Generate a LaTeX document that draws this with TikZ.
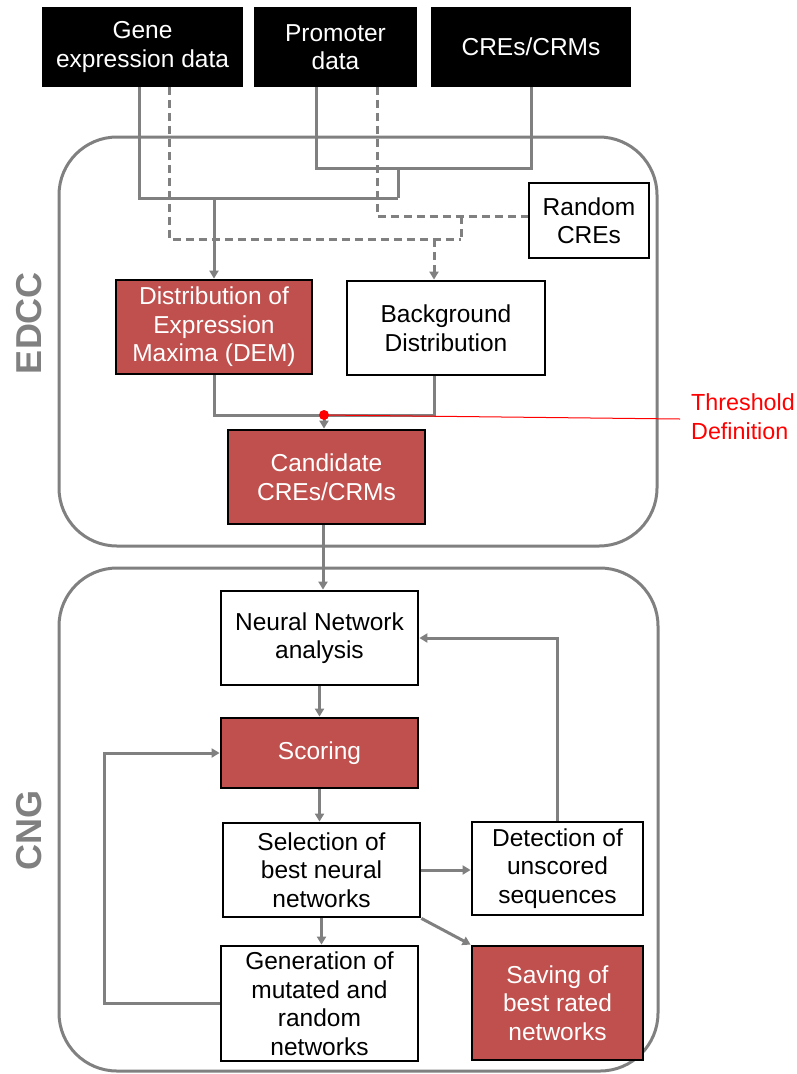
\documentclass[tikz,border=0pt]{standalone}
\usepackage{fontspec}
\setmainfont{Liberation Sans}
\usetikzlibrary{arrows.meta,calc}
\definecolor{boxred}{HTML}{C0504D}
\definecolor{lgray}{HTML}{808080}
\begin{document}
\begin{tikzpicture}[x=1pt,y=-1pt,
  txt/.style={font=\fontsize{24.5}{28.5}\selectfont, align=center, inner sep=0pt},
  datbox/.style={txt, draw=black, fill=black, text=white, line width=1.5pt},
  whbox/.style={txt, draw=black, fill=white, text=black, line width=2.8pt},
  redbox/.style={txt, draw=black, fill=boxred, text=white, line width=2.8pt},
  conn/.style={draw=lgray, line width=3pt},
  dconn/.style={conn, dash pattern=on 8pt off 5pt},
  arr/.style={-{Triangle[length=8pt,width=9pt]}},
  container/.style={draw=lgray, line width=3pt, rounded corners=58pt},
  side/.style={font=\fontsize{36}{40}\selectfont\bfseries, text=lgray, rotate=90, inner sep=0pt}
]
\useasboundingbox (0,0) rectangle (797,1074);
% containers
\draw[container] (59,137) rectangle (657,546);
\draw[container] (59,568) rectangle (658,1071);
\node[side] (edcc) at (29,323) {EDCC};
\node[side] (cng) at (29,830) {CNG};
% top data boxes
\node[datbox, minimum width=199pt, minimum height=78pt] (gene) at (142.5,47) {Gene\\expression data};
\node[datbox, minimum width=161pt, minimum height=78pt] (prom) at (335.5,47) {Promoter\\data};
\node[datbox, minimum width=198pt, minimum height=78pt] (cres) at (531,47) {CREs/CRMs};
% EDCC boxes
\node[whbox, minimum width=120pt, minimum height=75pt] (rand) at (589,220.5) {Random\\CREs};
\node[redbox, minimum width=196pt, minimum height=94pt] (dem) at (214,327) {Distribution of\\Expression\\Maxima (DEM)};
\node[whbox, minimum width=198pt, minimum height=94pt] (bg) at (446,328) {Background\\Distribution};
\node[redbox, minimum width=197pt, minimum height=94pt] (cand) at (326.5,477) {Candidate\\CREs/CRMs};
% CNG boxes
\node[whbox, minimum width=197pt, minimum height=94pt] (nn) at (319.5,638) {Neural Network\\analysis};
\node[redbox, minimum width=197pt, minimum height=70pt] (scor) at (319.5,753) {Scoring};
\node[whbox, minimum width=197pt, minimum height=94pt] (sel) at (321.5,870) {Selection of\\best neural\\networks};
\node[whbox, minimum width=171pt, minimum height=93pt] (det) at (557.5,868.5) {Detection of\\unscored\\sequences};
\node[redbox, minimum width=171pt, minimum height=114pt] (save) at (557.5,1003) {Saving of\\best rated\\networks};
\node[whbox, minimum width=197pt, minimum height=115pt] (gen) at (319.5,1003.5) {Generation of\\mutated and\\random\\networks};
% solid data connectors
\coordinate (j1) at (398,168);
\coordinate (j2) at (398,198);
\draw[conn] ($(prom.south)+(-19.5,0)$) |- (j1);
\draw[conn] (cres.south) |- (j1) -- (j2);
\draw[conn] ($(gene.south)+(-3.5,0)$) |- (j2);
\draw[conn, arr] (dem.north |- j2) -- (dem.north);
% dashed connectors
\coordinate (d1) at (461,216);
\coordinate (d2) at (461,239);
\coordinate (bgin) at ($(bg.north)+(-12,0)$);
\coordinate (bgout) at ($(bg.south)+(-12,0)$);
\draw[dconn] ($(prom.south)+(41.5,0)$) |- (d1) -- (rand.west |- d1);
\draw[dconn] (d1) -- (d2);
\draw[dconn] ($(gene.south)+(26.5,0)$) |- (d2);
\draw[dconn, arr] (bgin |- d2) -- (bgin);
% to candidate
\coordinate (t) at (324,415);
\draw[conn] (dem.south) |- (t);
\draw[conn] (bgout) |- (t);
\draw[conn, arr] (t) -- (t |- cand.north);
\draw[red, line width=1pt] (t) -- (680,419);
\fill[red] (t) circle (5pt);
\node[font=\fontsize{23.3}{29}\selectfont, text=red, align=left, anchor=north west, inner sep=0pt] (thr) at (691,393) {Threshold\\Definition};
% CNG flow
\coordinate (cn) at (323,0);
\draw[conn, arr] (cand.south -| cn) -- (nn.north -| cn);
\draw[conn, arr] (nn.south) -- (scor.north);
\draw[conn, arr] (scor.south) -- (sel.north -| scor.south);
\draw[conn, arr] (sel.east) -- (sel.east -| det.west);
\draw[conn, arr] (det.north) |- (nn.east);
\draw[conn, arr] (sel.south east) -- (save.north west);
\draw[conn, arr] (sel.south) -- (sel.south |- gen.north);
\draw[conn, arr] (gen.west) -- (104,1003.5) |- (scor.west);
\end{tikzpicture}
\end{document}
